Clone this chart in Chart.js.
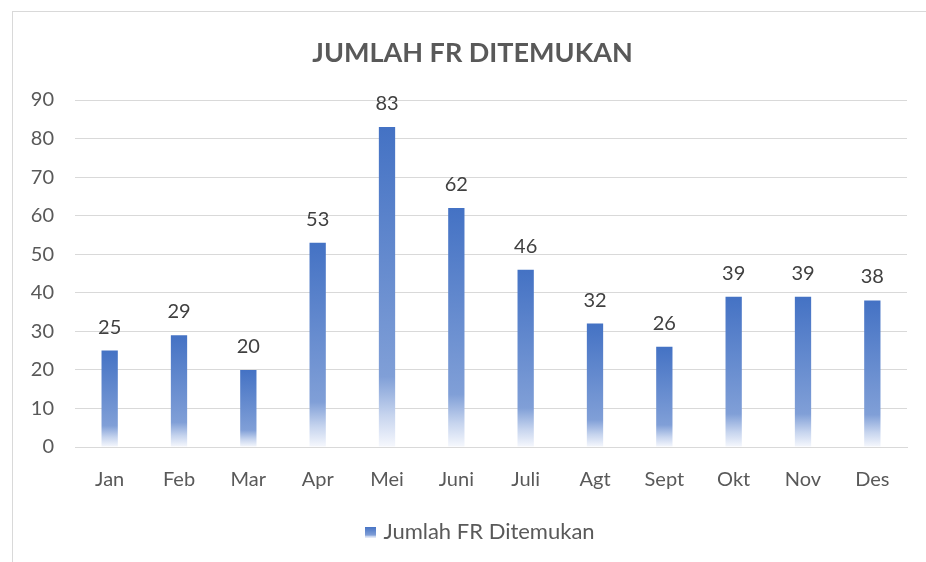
<!DOCTYPE html>
<html>
<head>
<meta charset="utf-8">
<script src="https://cdn.jsdelivr.net/npm/chart.js@4.4.1/dist/chart.umd.min.js"></script>
<style>
  html, body { margin: 0; padding: 0; background: #ffffff; }
  #wrap { position: relative; width: 926px; height: 562px; overflow: hidden; }
  #frame { position: absolute; left: 12px; top: 11px; width: 1000px; height: 1000px; border: 1px solid #d9d9d9; box-sizing: border-box; }
  canvas { position: absolute; left: 0; top: 0; }
</style>
</head>
<body>
<div id="wrap">
  <div id="frame"></div>
  <canvas id="c" width="926" height="562"></canvas>
</div>
<script>
const categories = ["Jan", "Feb", "Mar", "Apr", "Mei", "Juni", "Juli", "Agt", "Sept", "Okt", "Nov", "Des"];
const seriesName = "Jumlah FR Ditemukan";
const seriesValues = [25, 29, 20, 53, 83, 62, 46, 32, 26, 39, 39, 38];
const yTicks = [0, 10, 20, 30, 40, 50, 60, 70, 80, 90];
const chartTitle = "JUMLAH FR DITEMUKAN";

const FONT = "Lato, 'Open Sans', sans-serif";
const gradStops = [[0, "#4472C4"], [0.78, "#809FD7"], [0.9, "#C6D4EE"], [1, "#F6F8FD"]];

function barGradient(ctx, top, bottom) {
  const g = ctx.createLinearGradient(0, top, 0, bottom);
  gradStops.forEach(s => g.addColorStop(s[0], s[1]));
  return g;
}

// legend marker: small gradient square
const marker = document.createElement("canvas");
marker.width = 11; marker.height = 11;
(function () {
  const mctx = marker.getContext("2d");
  mctx.fillStyle = barGradient(mctx, 0, 11);
  mctx.fillRect(0, 0, 11, 11);
})();

const dataLabels = {
  id: "dataLabels",
  afterDatasetsDraw(chart) {
    const ctx = chart.ctx;
    const meta = chart.getDatasetMeta(0);
    ctx.save();
    ctx.font = "20px " + FONT;
    ctx.fillStyle = "#404040";
    ctx.textAlign = "center";
    ctx.textBaseline = "alphabetic";
    meta.data.forEach((el, i) => {
      ctx.fillText(String(seriesValues[i]), el.x, el.y - 17);
    });
    ctx.restore();
  }
};

// centre title and legend over the plot area rather than the whole canvas
const centerBoxes = {
  id: "centerBoxes",
  afterLayout(chart) {
    if (chart.titleBlock) { chart.titleBlock.left += 19; chart.titleBlock.right += 19; }
    if (chart.legend) { chart.legend.left += 28; chart.legend.right += 28; }
  }
};

new Chart(document.getElementById("c"), {
  type: "bar",
  data: {
    labels: categories,
    datasets: [{
      label: seriesName,
      data: seriesValues,
      backgroundColor(context) {
        const chart = context.chart;
        const y = chart.scales.y;
        if (!y || context.type !== "data") return "#4472C4";
        const top = y.getPixelForValue(context.raw);
        const bottom = y.getPixelForValue(0);
        return barGradient(chart.ctx, top, bottom);
      },
      borderWidth: 0,
      categoryPercentage: 1.0,
      barPercentage: 0.235
    }]
  },
  options: {
    responsive: false,
    animation: false,
    layout: { padding: { left: 0, right: 19, top: 0, bottom: 9 } },
    plugins: {
      title: {
        display: true,
        text: chartTitle,
        color: "#595959",
        font: { family: FONT, size: 27, weight: "bold" },
        padding: { top: 37, bottom: 30.6 }
      },
      legend: {
        display: true,
        position: "bottom",
        labels: {
          usePointStyle: true,
          pointStyle: marker,
          pointStyleWidth: 4,
          color: "#595959",
          font: { family: FONT, size: 22 },
          padding: 14,
          generateLabels(chart) {
            return [{
              text: seriesName,
              pointStyle: marker,
              fillStyle: "#4472C4",
              strokeStyle: "rgba(0,0,0,0)",
              lineWidth: 0,
              fontColor: "#595959",
              datasetIndex: 0,
              hidden: false
            }];
          }
        }
      },
      tooltip: { enabled: false }
    },
    scales: {
      x: {
        afterFit(scale) { scale.height = scale.height - 6; },
        grid: { display: false, drawTicks: false },
        border: { display: true, color: "#d9d9d9", width: 1 },
        ticks: { color: "#595959", font: { family: FONT, size: 20 }, padding: 21 }
      },
      y: {
        min: 0, max: 90,
        afterFit(scale) { scale.width = 75; },
        afterBuildTicks(scale) { scale.ticks = yTicks.map(v => ({ value: v })); },
        grid: { color: "#d9d9d9", lineWidth: 1, drawTicks: false },
        border: { display: false },
        ticks: { color: "#595959", font: { family: FONT, size: 20 }, padding: 21 }
      }
    }
  },
  plugins: [dataLabels, centerBoxes]
});
</script>
</body>
</html>
